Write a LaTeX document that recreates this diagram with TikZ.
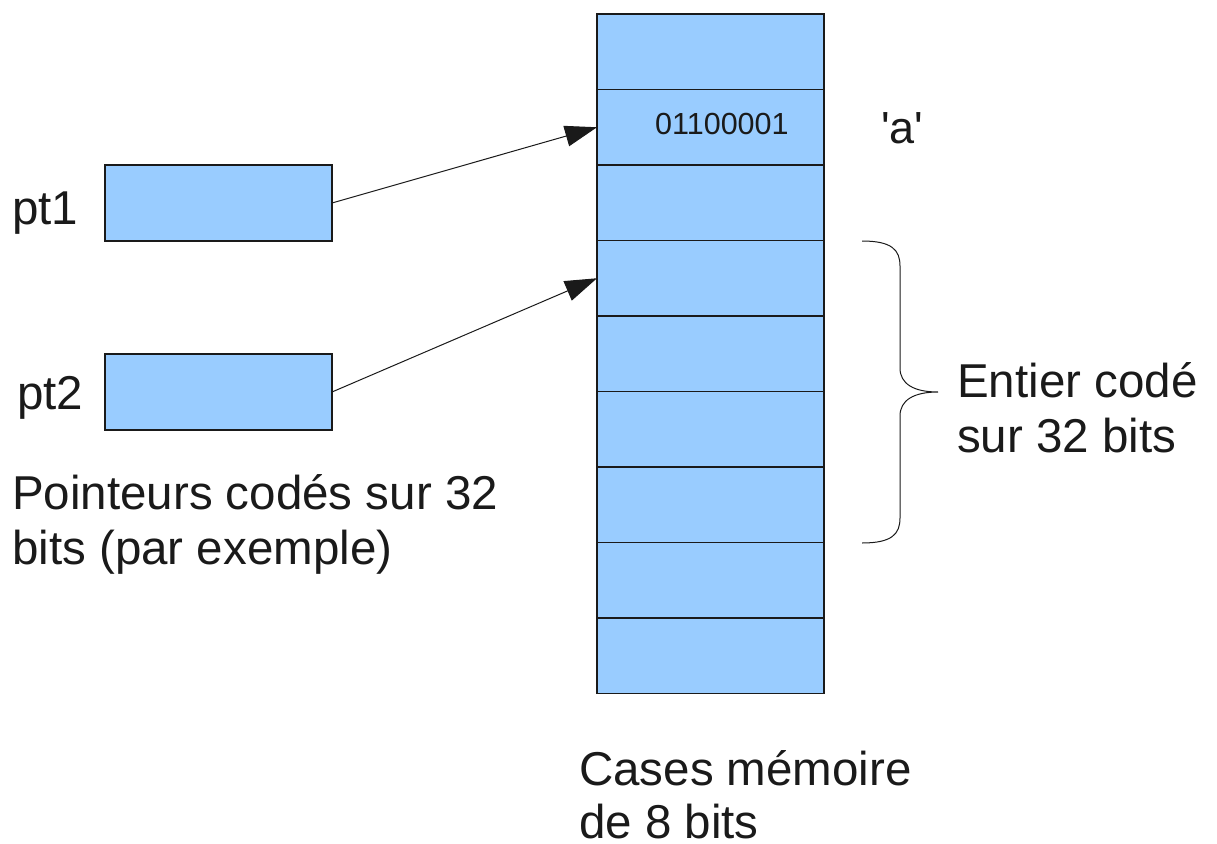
\documentclass[tikz,border=0pt]{standalone}
\usepackage{fontspec}
\setmainfont{Liberation Sans}
\usetikzlibrary{arrows.meta}
\definecolor{cellblue}{HTML}{99CCFF}
\definecolor{ink}{HTML}{1A1A1A}
\begin{document}
\begin{tikzpicture}[x=1pt,y=-1pt,
  cell/.style={draw=ink,fill=cellblue,line width=1.1pt,minimum width=227pt,minimum height=75.5pt,inner sep=0pt,outer sep=0pt},
  ptrbox/.style={draw=ink,fill=cellblue,line width=1.1pt,minimum width=227pt,minimum height=76pt,inner sep=0pt,outer sep=0pt},
  lbl/.style={font=\fontsize{47.5}{55}\selectfont,text=ink,inner sep=0pt,anchor=base west},
  conn/.style={draw=ink,line width=1pt,-{Triangle[length=32pt,width=21pt]}}]
\useasboundingbox (0,0) rectangle (1217,843);
% memory column
\foreach \i in {1,...,9}{
  \node[cell] (m\i) at (710.5,{14+75.5*(\i-0.5)}) {};
}
\node[font=\fontsize{30.5}{36}\selectfont,text=ink,inner sep=0pt,anchor=base west] (bin) at (655,134) {01100001};
\node[lbl,font=\fontsize{45}{52}\selectfont] (a) at (881,143) {\textquotesingle a\textquotesingle};
% pointer boxes
\node[ptrbox] (pt1) at (218.5,203) {};
\node[ptrbox] (pt2) at (218.5,392) {};
\node[lbl] (l1) at (12,224) {pt1};
\node[lbl] (l2) at (17,409) {pt2};
% arrows
\draw[conn] (pt1.east) -- (m2.west);
\draw[conn] (pt2.east) -- (m4.west);
% brace
\coordinate (btop) at (862,241);
\coordinate (bbot) at (862,543);
\coordinate (btip) at (938,392);
\draw[ink,line width=1pt] (btop) .. controls (892,241) and (900,250) .. (900,266) -- (900,368)
  .. controls (900,384) and (914,392) .. (btip)
  .. controls (914,392) and (900,400) .. (900,416) -- (900,518)
  .. controls (900,534) and (892,543) .. (bbot);
% texts
\node[lbl] (t1) at (12,509) {Pointeurs codés sur 32};
\node[lbl] (t2) at (12,564) {bits (par exemple)};
\node[lbl] (e1) at (957,397) {Entier codé};
\node[lbl] (e2) at (957,452) {sur 32 bits};
\node[lbl] (c1) at (579,785) {Cases mémoire};
\node[lbl,text depth=0pt] (c2) at (579,838) {de 8 bits};
\end{tikzpicture}
\end{document}
